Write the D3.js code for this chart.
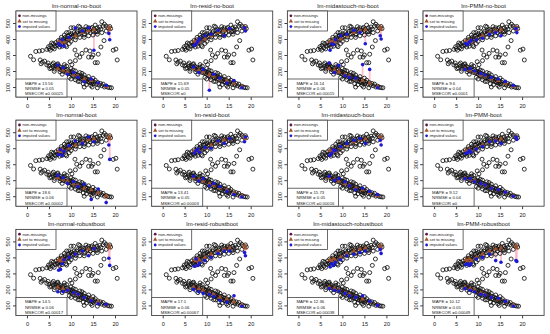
<!DOCTYPE html>
<html><head><meta charset="utf-8">
<script src="https://cdn.jsdelivr.net/npm/d3@7"></script>
<style>body{margin:0;background:#fff}svg{display:block}text{font-family:"Liberation Sans",Arial,sans-serif}</style>
</head><body><svg id="c" width="550" height="334"></svg>
<script>
const titles = ["lm-normal-no-boot","lm-resid-no-boot","lm-midastouch-no-boot","lm-PMM-no-boot",
  "lm-normal-boot","lm-resid-boot","lm-midastouch-boot","lm-PMM-boot",
  "lm-normal-robustboot","lm-resid-robustboot","lm-midastouch-robustboot","lm-PMM-robustboot"];
const mape = ["13.56","15.69","16.14","9.6","18.6","13.41","15.73","9.12","14.5","17.1","12.36","10.12"];
const nrmse = ["0.05","0.05","0.06","0.04","0.06","0.05","0.05","0.04","0.06","0.06","0.06","0.05"];
const msecor = ["0.00025","0","0.00015","0.0001","0.00002","0.00003","0.00016","0","0.00017","0.00067","0.00038","0.00049"];
const xTicks = [0,5,10,15,20];
const yTicks = [100,200,300,400,500];
const legendLabels = ["non-missings","set to missing","imputed values"];

// observed (black open circles)
const baseX = [0.8,2.0,2.8,3.5,4.5,5.0,5.3,4.9,5.4,5.8,6.0,6.2,5.6,6.4,
 6.6,6.9,7.1,7.3,7.5,7.7,7.9,8.1,8.3,8.5,8.7,8.9,9.1,9.3,9.5,9.7,9.9,10.1,10.3,10.5,10.7,10.9,11.1,11.3,11.5,11.7,11.9,12.1,12.3,12.5,12.7,12.9,13.1,13.4,13.6,13.8,14.0,14.2,14.4,14.6,14.8,15.0,15.2,15.5,15.7,15.9,16.2,16.5,16.8,17.0,17.3,17.6,18.0,18.4,18.8,19.0,10.0,10.6,12.0,9.0,8.0,8.8,9.6,7.4,14.0,13.0,16.0,
 7.0,7.8,8.5,9.5,10.0,11.0,12.0,13.0,15.0,16.0,17.0,18.0,
 9.0,9.8,10.9,11.3,12.0,13.4,14.3,15.0,14.0,14.7,16.2,15.5,16.0,20.5,19.6,20.2,12.5,11.0,10.2,17.5,16.8,
 1.5,3.0,3.5,3.2,4.0,4.5,5.0,4.8,5.5,5.8,6.0,6.3,6.5,6.7,6.9,7.1,7.3,7.5,7.7,7.9,8.1,8.3,8.5,8.7,8.9,9.1,9.3,9.5,9.7,9.9,10.1,10.3,10.5,10.7,10.9,11.1,11.3,11.5,11.7,11.9,12.1,12.3,12.5,12.7,12.9,13.1,13.3,13.5,13.7,13.9,14.1,14.3,14.5,14.7,14.9,15.1,15.3,15.5,15.8,16.1,16.4,16.7,17.0,17.3,17.6,18.0,18.4,18.8,19.2,16.0,12.8,11.6,9.6,8.0,5.2,6.2,14.8,13.0,
 6.0,7.0,7.5,8.5,9.0,10.0,10.5,11.0,12.0,12.5,13.0,14.0,15.0,14.5,13.5,12.0,11.0,10.0];
const baseY = [292,322,325,328,335,340,330,352,360,345,370,338,375,355,
 378,365,390,372,382,395,370,388,400,380,410,393,402,418,398,425,408,432,415,422,440,428,412,438,448,480,430,452,438,460,445,455,432,477,462,448,470,455,440,465,472,450,462,487,445,470,458,475,462,508,480,492,481,470,478,465,470,470,475,440,355,360,372,350,420,410,430,
 360,410,425,440,385,395,410,425,425,445,440,450,
 352,258,331,300,287,331,325,300,287,287,305,252,252,269,330,337,310,265,240,390,350,
 270,269,255,245,262,238,232,250,220,240,228,212,235,225,240,218,230,210,222,205,215,198,225,205,192,210,188,200,185,195,178,190,170,185,162,180,168,175,158,172,160,150,165,148,158,142,155,138,150,132,145,128,140,125,135,120,130,142,118,128,112,122,108,118,100,105,98,96,95,95,120,135,160,180,215,198,100,100,
 250,245,195,240,230,215,205,200,190,185,175,165,155,110,115,135,145,150];

// values set to missing (true values, brown triangles)
const missX = [7.2,7.6,8.0,8.4,9.6,11.0,12.6,14.0,15.2,18.6,18.8,7.0,8.2,9.2,10.6,11.6,13.0,14.6,16.2,18.0];
const missY = [385,378,392,380,400,420,440,452,458,475,460,215,205,195,178,168,150,140,122,102];

// imputed values per panel (blue dots)
const imputed = [
 [372,360,395,355,410,468,450,470,330,435,395,237,220,180,190,160,133,150,125,110],
 [360,370,385,400,420,430,455,420,465,470,450,225,190,210,80,180,155,125,140,95],
 [330,370,365,395,420,430,455,440,370,420,400,250,190,235,170,160,155,240,210,95],
 [372,365,380,390,395,405,430,440,420,465,440,210,215,200,185,175,160,150,135,110],
 [360,390,355,380,415,445,430,470,440,420,330,230,215,180,190,160,175,80,145,60],
 [370,385,395,375,405,400,445,430,460,440,470,225,195,210,165,180,160,130,110,95],
 [355,370,390,385,410,430,450,460,430,450,420,225,200,210,190,165,140,150,130,110],
 [368,372,385,375,395,410,440,445,430,470,455,210,210,190,180,170,150,140,125,100],
 [320,325,360,385,400,420,440,410,455,395,350,185,185,195,180,170,150,130,110,105],
 [345,390,350,365,380,400,425,440,440,430,410,200,185,175,170,155,130,120,160,95],
 [340,360,350,370,385,410,420,430,440,450,425,205,195,190,175,160,150,160,125,100],
 [355,360,350,360,390,400,420,380,370,380,375,205,195,185,170,165,150,145,125,95]
];

const svg = d3.select("#c");
const colDX = 135.7, rowDY = 109.2;
const bx0 = 16, bx1 = 137, by0 = 11, by1 = 97;
const cBrown = "#a0522d", cBlue = "#1a1ad6", cPurple = "#5a1a4a", cPink = "#ffb3c6";

titles.forEach((t, i) => {
  const col = i % 4, row = Math.floor(i / 4);
  const ox = col * colDX, oy = row * rowDY;
  const g = svg.append("g").attr("transform", `translate(${ox},${oy})`);
  const x = d3.scaleLinear().domain([-2.5, 25]).range([bx0, bx1]);
  const y = d3.scaleLinear().domain([37.5, 575]).range([by1, by0]);

  g.append("text").attr("x", (bx0 + bx1) / 2).attr("y", 7.5).attr("text-anchor", "middle")
    .attr("font-size", 6).attr("fill", "#222").text(t);

  // pink connectors true -> imputed
  g.selectAll("line.pk").data(missX).join("line").attr("class", "pk")
    .attr("x1", d => x(d)).attr("x2", d => x(d))
    .attr("y1", (d, k) => y(missY[k])).attr("y2", (d, k) => y(imputed[i][k]))
    .attr("stroke", cPink).attr("stroke-width", 1.8).attr("opacity", 0.85);

  g.selectAll("circle.ob").data(baseX).join("circle").attr("class", "ob")
    .attr("cx", d => x(d)).attr("cy", (d, k) => y(baseY[k])).attr("r", 2.0)
    .attr("fill", "none").attr("stroke", "#111").attr("stroke-width", 0.85);

  g.selectAll("path.tr").data(missX).join("path").attr("class", "tr")
    .attr("d", d3.symbol(d3.symbolTriangle, 10))
    .attr("transform", (d, k) => `translate(${x(d)},${y(missY[k])})`)
    .attr("fill", cBrown);

  g.selectAll("circle.im").data(missX).join("circle").attr("class", "im")
    .attr("cx", d => x(d)).attr("cy", (d, k) => y(imputed[i][k])).attr("r", 1.8)
    .attr("fill", cBlue);

  // box
  g.append("rect").attr("x", bx0).attr("y", by0).attr("width", bx1 - bx0).attr("height", by1 - by0)
    .attr("fill", "none").attr("stroke", "#444").attr("stroke-width", 0.9);

  // axes
  const ax = g.append("g").attr("transform", `translate(0,${by1})`)
    .call(d3.axisBottom(x).tickValues(xTicks).tickSize(3).tickSizeOuter(0).tickPadding(4));
  ax.select(".domain").remove();
  ax.selectAll("text").attr("font-size", 5.6).attr("fill", "#222");
  ax.selectAll("line").attr("stroke", "#444");
  const ay = g.append("g").attr("transform", `translate(${bx0},0)`)
    .call(d3.axisLeft(y).tickValues(yTicks).tickSize(3).tickSizeOuter(0));
  ay.select(".domain").remove();
  ay.selectAll("line").attr("stroke", "#444");
  ay.selectAll("text").attr("font-size", 5.6).attr("fill", "#222")
    .attr("x", 0).attr("y", 0).attr("dy", "0.35em")
    .attr("text-anchor", "middle")
    .attr("transform", "translate(-7.5,0) rotate(-90)");

  // legend
  const lg = g.append("g");
  lg.append("rect").attr("x", bx0).attr("y", by0).attr("width", 40).attr("height", 20)
    .attr("fill", "#fff").attr("stroke", "#444").attr("stroke-width", 0.8);
  legendLabels.forEach((lab, k) => {
    const yy = by0 + 4.8 + k * 5.4;
    if (k === 1) lg.append("path").attr("d", d3.symbol(d3.symbolTriangle, 8)).attr("transform", `translate(${bx0 + 3.5},${yy})`).attr("fill", cBrown);
    else lg.append("circle").attr("cx", bx0 + 3.5).attr("cy", yy).attr("r", 1.4).attr("fill", k === 0 ? cPurple : cBlue);
    lg.append("text").attr("x", bx0 + 6.5).attr("y", yy).attr("dy", "0.35em").attr("font-size", 4.1).attr("fill", "#222").text(lab);
  });

  // stats box
  const sg = g.append("g");
  sg.append("rect").attr("x", bx0).attr("y", by1 - 18).attr("width", 51).attr("height", 18)
    .attr("fill", "#fff").attr("stroke", "#444").attr("stroke-width", 0.8);
  const lines = ["MAPE = " + mape[i], "NRMSE = " + nrmse[i], "MSECOR =" + msecor[i]];
  lines.forEach((s, k) => {
    sg.append("text").attr("x", bx0 + 9).attr("y", by1 - 13.5 + k * 5.2).attr("dy", "0.35em")
      .attr("font-size", 4.3).attr("fill", "#222").text(s);
  });
});
</script></body></html>
